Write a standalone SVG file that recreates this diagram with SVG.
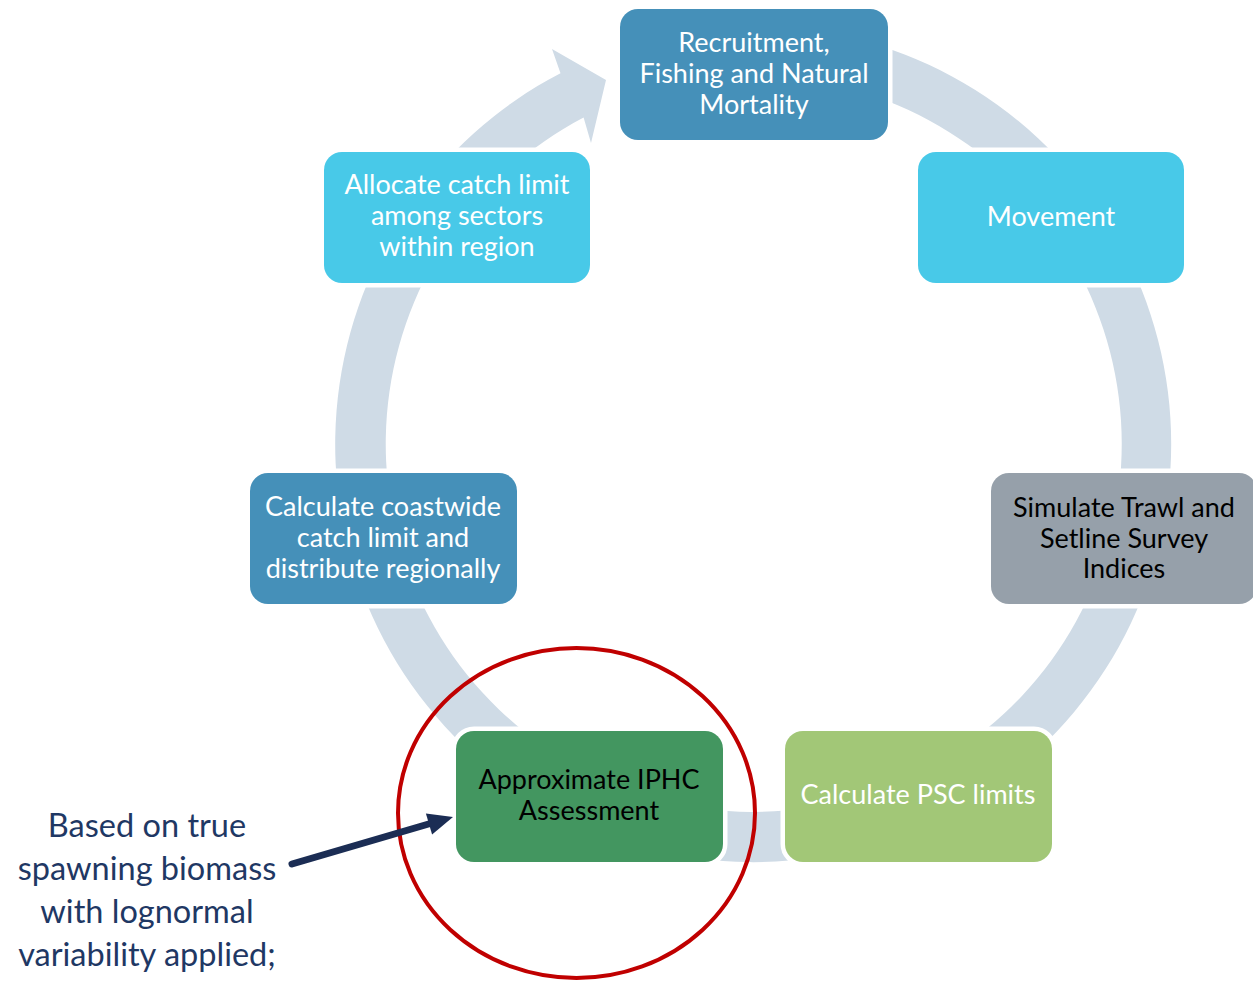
<svg xmlns="http://www.w3.org/2000/svg" width="1253" height="982" viewBox="0 0 1253 982">
<style>
.box{stroke:#ffffff;stroke-width:9;paint-order:stroke}
.t{font-family:Lato,"Liberation Sans",sans-serif;font-size:27px;text-anchor:middle}
.w{fill:#ffffff}
.k{fill:#000000}
.note{font-family:Lato,"Liberation Sans",sans-serif;font-size:32.5px;text-anchor:middle;fill:#1F3864}
</style>
<rect width="1253" height="982" fill="#ffffff"/>
<g id="connectors">
<path id="ring" fill="#CFDBE6" d="M645.3,40.3 A418,418 0 1 1 560.5,73.2 L552,49 L606,80 L591,143 L583.6,117.6 A368,368 0 1 0 658.3,88.5 Z"/>
</g>
<g id="n1">
<rect class="box" x="620" y="9" width="268" height="131" rx="18" fill="#4590B9"/>
<text class="t w" x="754" y="52">Recruitment,</text>
<text class="t w" x="754" y="83">Fishing and Natural</text>
<text class="t w" x="754" y="114">Mortality</text>
</g>
<g id="n2">
<rect class="box" x="918" y="152" width="266" height="131" rx="18" fill="#48C9E8"/>
<text class="t w" x="1051" y="226">Movement</text>
</g>
<g id="n3">
<rect class="box" x="991" y="473" width="266" height="131" rx="18" fill="#96A0AA"/>
<text class="t k" x="1124" y="517">Simulate Trawl and</text>
<text class="t k" x="1124" y="548">Setline Survey</text>
<text class="t k" x="1124" y="578">Indices</text>
</g>
<g id="n4">
<rect class="box" x="785" y="731" width="267" height="131" rx="18" fill="#A2C777"/>
<text class="t w" x="918" y="804">Calculate PSC limits</text>
</g>
<g id="n5">
<rect class="box" x="456" y="731" width="267" height="131" rx="18" fill="#439660"/>
<text class="t k" x="589" y="789">Approximate IPHC</text>
<text class="t k" x="589" y="820">Assessment</text>
</g>
<g id="n6">
<rect class="box" x="250" y="473" width="267" height="131" rx="18" fill="#4590B9"/>
<text class="t w" x="383" y="516">Calculate coastwide</text>
<text class="t w" x="383" y="547">catch limit and</text>
<text class="t w" x="383" y="578">distribute regionally</text>
</g>
<g id="n7">
<rect class="box" x="324" y="152" width="266" height="131" rx="18" fill="#48C9E8"/>
<text class="t w" x="457" y="194">Allocate catch limit</text>
<text class="t w" x="457" y="225">among sectors</text>
<text class="t w" x="457" y="256">within region</text>
</g>
<g id="highlight">
<ellipse cx="576.5" cy="813" rx="178.5" ry="165" fill="none" stroke="#C00000" stroke-width="4"/>
</g>
<g id="annotation">
<line x1="292" y1="864" x2="432" y2="823" stroke="#1B2D54" stroke-width="7" stroke-linecap="round"/>
<polygon points="453,817 425.9,813.4 432.1,834.6" fill="#1B2D54"/>
<text class="note" x="147" y="837">Based on true</text>
<text class="note" x="147" y="880">spawning biomass</text>
<text class="note" x="147" y="923">with lognormal</text>
<text class="note" x="147" y="966">variability applied;</text>
</g>
</svg>
